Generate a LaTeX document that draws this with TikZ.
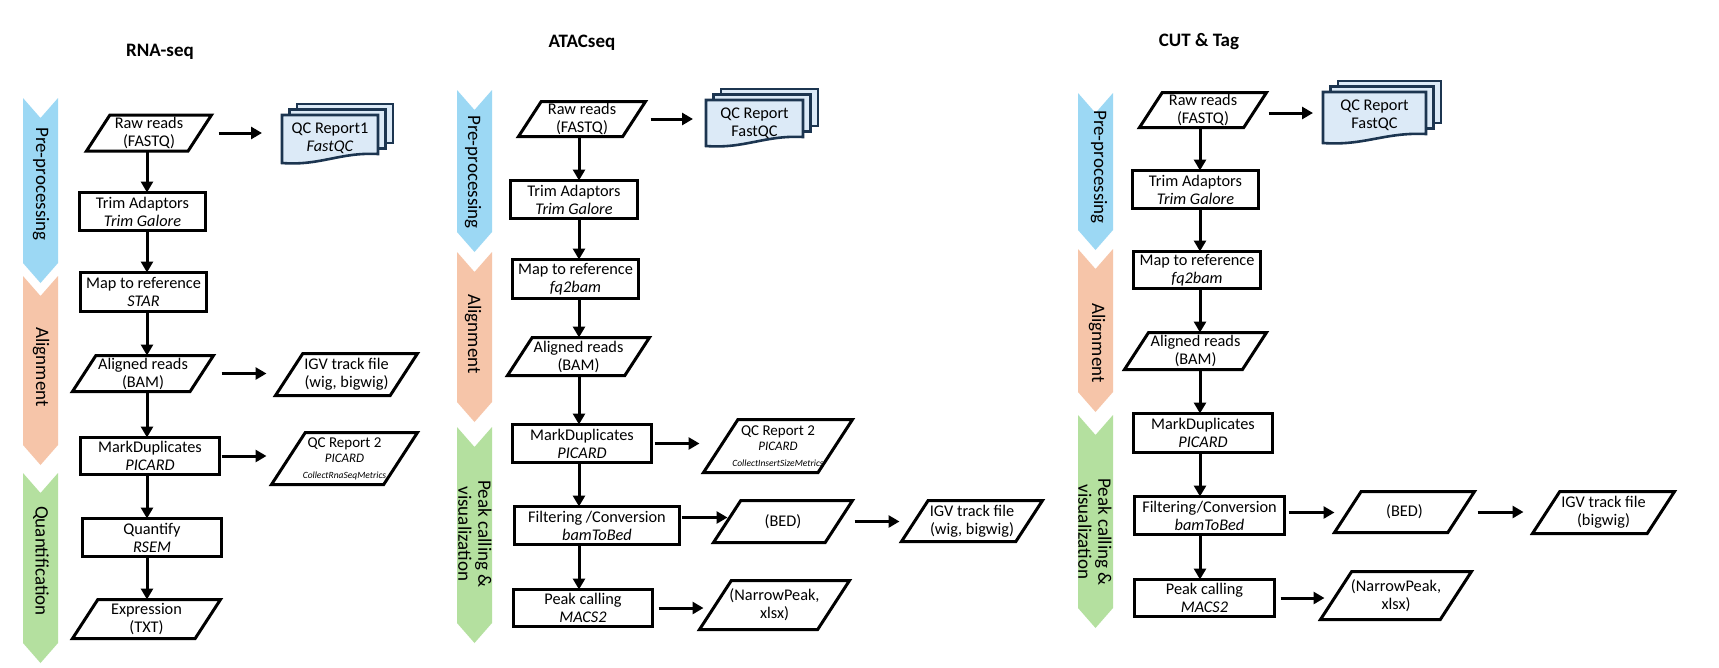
\documentclass[tikz,border=0pt]{standalone}
\usepackage{fontspec}
\setmainfont{Carlito}
\usepackage{tikz}
\usetikzlibrary{calc,shapes,arrows.meta}

\definecolor{prepblue}{HTML}{9CD8F4}
\definecolor{alignorange}{HTML}{F6C5A9}
\definecolor{callgreen}{HTML}{B4E09F}
\definecolor{qcfill}{HTML}{DCEAF7}
\definecolor{qcborder}{HTML}{1C3550}

\tikzset{
  boxline/.style={line width=3pt, draw=black, line join=miter},
  box/.style={boxline, rectangle, inner sep=1pt, outer sep=0pt, align=center,
    font=\fontsize{16.3}{18}\selectfont},
  paratext/.style={rectangle, inner sep=1pt, outer sep=0pt, align=center,
    font=\fontsize{16.3}{18}\selectfont},
  arr/.style={line width=3pt, -{Triangle[length=11pt,width=12pt]}},
  stagetext/.style={rotate=-90, align=center, font=\fontsize{19}{20}\selectfont},
  headtext/.style={font=\fontsize{19}{22}\selectfont\bfseries},
  qcline/.style={line width=2.6pt, draw=qcborder, fill=qcfill, line join=miter},
}

% input/output parallelogram: name, x, y, width, height, text
\newcommand{\iobox}[6]{%
  \node[paratext, minimum width=#4, minimum height=#5] (#1) at (#2,#3) {#6};
  \draw[boxline] ($(#1.north west)+(0.65*#5,0)$) -- (#1.north east)
    -- ($(#1.south east)+(-0.65*#5,0)$) -- (#1.south west) -- cycle;
}
% stage chevron: left x, top, bottom, colour
\newcommand{\stage}[4]{%
  \fill[#4] (#1,#2) -- (#1+17.5,#2+20) -- (#1+35,#2) -- (#1+35,#3)
    -- (#1+17.5,#3+20) -- (#1,#3) -- cycle;
}
% stack of QC reports: name, x, y, width, height, text
\newcommand{\qcstack}[6]{%
  \foreach \k in {2,1}
    \draw[qcline] (#2+7.5*\k,#3-5.5*\k) rectangle ++(#4,#5);
  \draw[qcline] (#2,#3) -- (#2+#4,#3) -- (#2+#4,#3+#5)
    .. controls (#2+0.6*#4,#3+#5-2) and (#2+0.4*#4,#3+#5+12) .. (#2,#3+#5+9) -- cycle;
  \node[paratext, minimum width=#4] (#1) at (#2+0.5*#4,#3+23) {#6};
}

\begin{document}
\begin{tikzpicture}[x=1pt, y=-1pt]
  \useasboundingbox (0,0) rectangle (1719,667);
  \fill[white] (0,0) rectangle (1719,667);

  % RNA-seq
  \node[headtext] (rna_title) at (160,52) {RNA-seq};
  \stage{23}{98}{263}{prepblue}
  \stage{23}{276}{445}{alignorange}
  \stage{23}{473}{643}{callgreen}
  \node[stagetext] (rna_pre) at (41,184) {Pre-processing};
  \node[stagetext] (rna_align) at (41,367) {Alignment};
  \node[stagetext] (rna_quantif) at (41,561) {Quantification};

  \iobox{rna_raw}{149}{133}{125}{36}{Raw reads\\(FASTQ)}
  \qcstack{rna_qc}{282}{115}{96}{39}{QC Report1\\\textit{FastQC}}
  \node[box, minimum width=126, minimum height=38] (rna_trim) at (142.5,211.5) {Trim Adaptors\\\textit{Trim Galore}};
  \node[box, minimum width=126, minimum height=39] (rna_map) at (143.5,292) {Map to reference\\\textit{STAR}};
  \iobox{rna_aln}{143}{373.5}{141}{36}{Aligned reads\\(BAM)}
  \iobox{rna_igv}{346.5}{374.5}{142}{42}{IGV track file\\(wig, bigwig)}
  \node[box, minimum width=139, minimum height=37] (rna_dup) at (150,456) {MarkDuplicates\\\textit{PICARD}};
  \iobox{rna_qc2}{344.5}{458.5}{146}{52}{{\fontsize{15}{15.5}\selectfont QC Report 2}\\[-2.5pt]
    {\fontsize{13}{15}\selectfont\itshape PICARD}\\[-2.5pt]
    {\fontsize{9.5}{12}\selectfont\itshape CollectRnaSeqMetrics}}
  \node[box, minimum width=139, minimum height=38] (rna_quant) at (152,537.5) {Quantify\\\textit{RSEM}};
  \iobox{rna_expr}{146.5}{619}{148}{39}{Expression\\(TXT)}

  \coordinate (rnacol) at (147,0);
  \foreach \a/\b in {rna_raw/rna_trim, rna_trim/rna_map, rna_map/rna_aln,
                     rna_aln/rna_dup, rna_dup/rna_quant, rna_quant/rna_expr}
    \draw[arr] (\a.south -| rnacol) -- (\b.north -| rnacol);
  \draw[arr] ($(rna_raw.east)+(7,0)$) -- ($(rna_qc.west |- rna_raw.east)+(-20,0)$);
  \draw[arr] ($(rna_aln.east)+(8,0)$) -- ($(rna_igv.west |- rna_aln.east)+(-9,0)$);
  \draw[arr] ($(rna_dup.east)+(2,0)$) -- ($(rna_qc2.west |- rna_dup.east)+(-5,0)$);

  % ATACseq
  \node[headtext] (at_title) at (582,43) {ATACseq};
  \stage{457}{90}{232}{prepblue}
  \stage{457}{252}{402}{alignorange}
  \stage{457}{427}{623}{callgreen}
  \node[stagetext] (at_pre) at (473,172) {Pre-processing};
  \node[stagetext] (at_align) at (473,334) {Alignment};
  \node[stagetext] (at_call) at (475,534) {Peak calling \&\\visualization};

  \iobox{at_raw}{582}{119}{127}{35}{Raw reads\\(FASTQ)}
  \qcstack{at_qc}{706}{100}{97}{37}{QC Report\\FastQC}
  \node[box, minimum width=127, minimum height=38] (at_trim) at (574,199.5) {Trim Adaptors\\\textit{Trim Galore}};
  \node[box, minimum width=126, minimum height=39] (at_map) at (575.5,279) {Map to reference\\\textit{fq2bam}};
  \iobox{at_aln}{578.5}{356.5}{142}{38}{Aligned reads\\(BAM)}
  \node[box, minimum width=139, minimum height=38] (at_dup) at (582,443.5) {MarkDuplicates\\\textit{PICARD}};
  \iobox{at_qc2}{778}{446}{149}{53}{{\fontsize{15}{15.5}\selectfont QC Report 2}\\[-2.5pt]
    {\fontsize{13}{15}\selectfont\itshape PICARD}\\[-2.5pt]
    {\fontsize{9.5}{12}\selectfont\itshape CollectInsertSizeMetrics}}
  \node[box, minimum width=165, minimum height=38] (at_filt) at (597,525.5) {Filtering /Conversion\\\textit{bamToBed}};
  \iobox{at_bed}{783}{521.5}{139}{42}{(BED)}
  \iobox{at_igv}{972}{521}{141}{41}{IGV track file\\(wig, bigwig)}
  \node[box, minimum width=139, minimum height=37] (at_peak) at (583,608) {Peak calling\\\textit{MACS2}};
  \iobox{at_np}{774.5}{605}{150}{49}{(NarrowPeak,\\xlsx)}

  \coordinate (atcol) at (579,0);
  \foreach \a/\b in {at_raw/at_trim, at_trim/at_map, at_map/at_aln,
                     at_aln/at_dup, at_dup/at_filt, at_filt/at_peak}
    \draw[arr] (\a.south -| atcol) -- (\b.north -| atcol);
  \draw[arr] ($(at_raw.east)+(5,0)$) -- ($(at_qc.west |- at_raw.east)+(-13,0)$);
  \draw[arr] ($(at_dup.east)+(3,0)$) -- ($(at_qc2.west |- at_dup.east)+(-4,0)$);
  \draw[arr] ($(at_filt.east)+(2,-8)$) -- ($(at_bed.west |- at_filt.east)+(14,-8)$);
  \draw[arr] ($(at_bed.east)+(2,0)$) -- ($(at_igv.west |- at_bed.east)+(-2,0)$);
  \draw[arr] ($(at_peak.east)+(6,0)$) -- ($(at_np.west |- at_peak.east)+(4,0)$);

  % CUT & Tag
  \node[headtext] (ct_title) at (1199,42) {CUT \& Tag};
  \stage{1078}{93}{230}{prepblue}
  \stage{1078}{249}{392}{alignorange}
  \stage{1078}{415}{608}{callgreen}
  \node[stagetext] (ct_pre) at (1099,167) {Pre-processing};
  \node[stagetext] (ct_align) at (1097,343) {Alignment};
  \node[stagetext] (ct_call) at (1095,532) {Peak calling \&\\visualization};

  \iobox{ct_raw}{1203}{110}{127}{35}{Raw reads\\(FASTQ)}
  \qcstack{ct_qc}{1323}{92}{103}{42}{QC Report\\FastQC}
  \node[box, minimum width=126, minimum height=38] (ct_trim) at (1195.5,189.5) {Trim Adaptors\\\textit{Trim Galore}};
  \node[box, minimum width=127, minimum height=37] (ct_map) at (1197,270) {Map to reference\\\textit{fq2bam}};
  \iobox{ct_aln}{1195.5}{351}{142}{37}{Aligned reads\\(BAM)}
  \node[box, minimum width=139, minimum height=39] (ct_dup) at (1203,433) {MarkDuplicates\\\textit{PICARD}};
  \node[box, minimum width=150, minimum height=38] (ct_filt) at (1209.5,515.5) {Filtering/Conversion\\\textit{bamToBed}};
  \iobox{ct_bed}{1404.5}{512}{140}{41}{(BED)}
  \iobox{ct_igv}{1603.5}{512.5}{142}{42}{IGV track file\\(bigwig)}
  \node[box, minimum width=140, minimum height=37] (ct_peak) at (1204.5,598) {Peak calling\\\textit{MACS2}};
  \iobox{ct_np}{1396}{595.5}{151}{48}{(NarrowPeak,\\xlsx)}

  \coordinate (ctcol) at (1200,0);
  \foreach \a/\b in {ct_raw/ct_trim, ct_trim/ct_map, ct_map/ct_aln,
                     ct_aln/ct_dup, ct_dup/ct_filt, ct_filt/ct_peak}
    \draw[arr] (\a.south -| ctcol) -- (\b.north -| ctcol);
  \draw[arr] ($(ct_raw.east)+(2,3)$) -- ($(ct_qc.west |- ct_raw.east)+(-10,3)$);
  \draw[arr] ($(ct_filt.east)+(4,-3)$) -- ($(ct_bed.west |- ct_filt.east)+(0,-3)$);
  \draw[arr] ($(ct_bed.east)+(3,0)$) -- ($(ct_igv.west |- ct_bed.east)+(-9,0)$);
  \draw[arr] ($(ct_peak.east)+(6,0)$) -- ($(ct_np.west |- ct_peak.east)+(4,0)$);
\end{tikzpicture}
\end{document}
